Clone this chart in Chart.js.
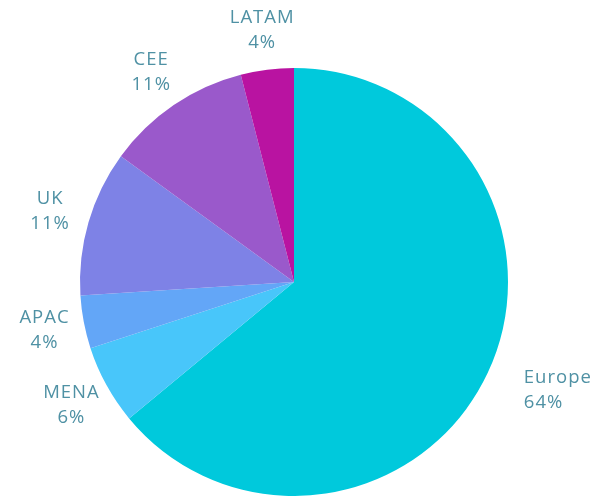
<!DOCTYPE html>
<html>
<head>
<meta charset="utf-8">
<script src="https://cdn.jsdelivr.net/npm/chart.js@4.4.0/dist/chart.umd.min.js"></script>
<style>
  html, body { margin: 0; padding: 0; background: #fff; }
  #wrap { width: 597px; height: 496px; position: relative; }
</style>
</head>
<body>
<div id="wrap"><canvas id="regionPie"></canvas></div>
<script>
// Share of business by region (clockwise from 12 o'clock)
const regions = ['Europe', 'MENA', 'APAC', 'UK', 'CEE', 'LATAM'];
const shares = [64, 6, 4, 11, 11, 4];
const sliceColors = ['#00c9dc', '#48c6fa', '#63a6f7', '#7e82e6', '#9a59cb', '#b913a1'];

const labelColor = '#4f91a4';
const labelFont = '400 18.5px "Open Sans", "Noto Sans", sans-serif';

// Draws "Name / NN%" outside each slice
const outsideLabels = {
  id: 'outsideLabels',
  afterDatasetsDraw(chart) {
    const { ctx } = chart;
    const meta = chart.getDatasetMeta(0);
    const total = shares.reduce((a, b) => a + b, 0);
    ctx.save();
    ctx.font = labelFont;
    ctx.letterSpacing = '1px';
    ctx.fillStyle = labelColor;
    ctx.textBaseline = 'middle';
    meta.data.forEach((arc, i) => {
      const { x, y, startAngle, endAngle, outerRadius } = arc.getProps(['x', 'y', 'startAngle', 'endAngle', 'outerRadius'], true);
      const mid = (startAngle + endAngle) / 2;
      const dist = outerRadius + 40;
      const lx = x + Math.cos(mid) * dist;
      const ly = y + Math.sin(mid) * dist;
      ctx.textAlign = Math.cos(mid) > 0.5 ? 'left' : 'center';
      const pct = Math.round(shares[i] / total * 100) + '%';
      ctx.fillText(regions[i], lx, ly - 12);
      ctx.fillText(pct, lx, ly + 13);
    });
    ctx.restore();
  }
};

const initRegionPie = () => {
  const ctx = document.getElementById('regionPie').getContext('2d');
  new Chart(ctx, {
    type: 'pie',
    data: {
      labels: regions,
      datasets: [{
        data: shares,
        backgroundColor: sliceColors,
        borderWidth: 0
      }]
    },
    options: {
      responsive: true,
      maintainAspectRatio: false,
      animation: false,
      layout: { padding: { top: 68, bottom: 0, left: 80, right: 89 } },
      plugins: {
        legend: { display: false },
        tooltip: { enabled: false }
      }
    },
    plugins: [outsideLabels]
  });
};

document.addEventListener('DOMContentLoaded', initRegionPie);
</script>
</body>
</html>
